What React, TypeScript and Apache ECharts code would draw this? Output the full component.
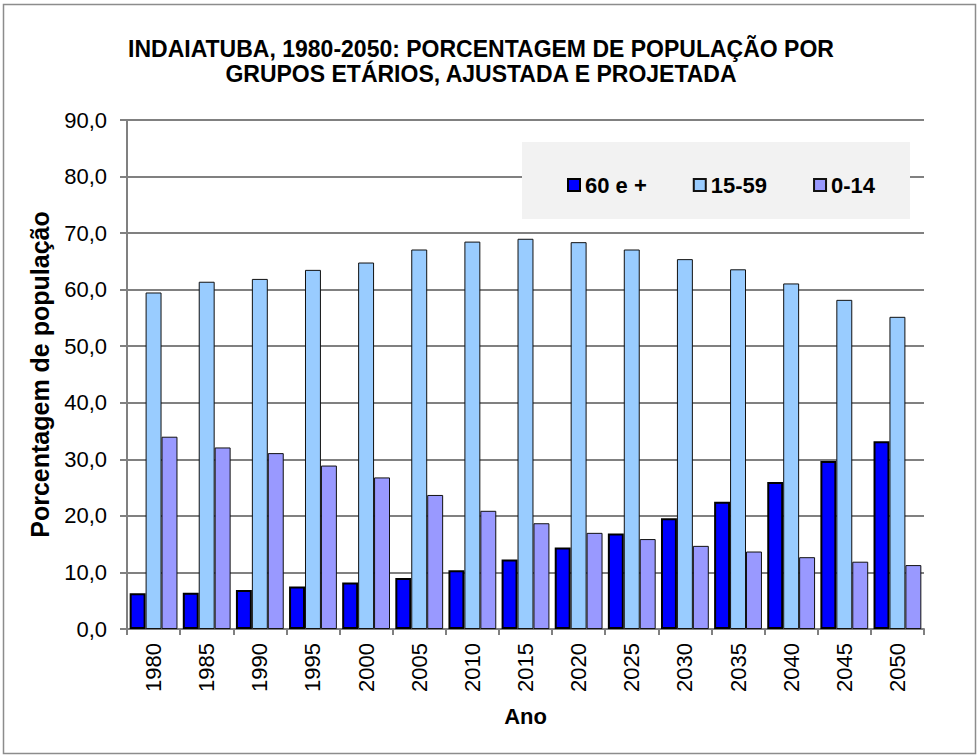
import React, { useEffect, useRef } from "react";
import * as echarts from "echarts";

const years = ["1980","1985","1990","1995","2000","2005","2010","2015","2020","2025","2030","2035","2040","2045","2050"];
const idosos = [6.3, 6.4, 6.9, 7.5, 8.2, 9.0, 10.4, 12.3, 14.4, 16.9, 19.6, 22.5, 26.0, 29.7, 33.2];
const adultos = [59.5, 61.4, 61.9, 63.5, 64.8, 67.1, 68.5, 69.0, 68.4, 67.1, 65.4, 63.6, 61.1, 58.2, 55.2];
const jovens = [34.0, 32.1, 31.1, 28.9, 26.8, 23.7, 20.9, 18.7, 17.0, 15.9, 14.7, 13.7, 12.7, 11.9, 11.3];
const seriesNames = ["60 e +", "15-59", "0-14"];
const titleText = "INDAIATUBA, 1980-2050: PORCENTAGEM DE POPULAÇÃO POR\nGRUPOS ETÁRIOS, AJUSTADA E PROJETADA";

const FONT = 'Arial, "Liberation Sans", sans-serif';

export default function App() {
  const ref = useRef<HTMLDivElement>(null);
  useEffect(() => {
    const chart = echarts.init(ref.current!, null, { renderer: "svg" });
    chart.setOption({
      animation: false,
      backgroundColor: "#ffffff",
      textStyle: { fontFamily: FONT },
      title: {
        text: titleText,
        left: 481,
        top: 36,
        padding: 0,
        textAlign: "center",
        textStyle: { fontFamily: FONT, fontWeight: "bold", fontSize: 23, color: "#000", lineHeight: 25 },
      },
      graphic: [
        {
          type: "rect",
          shape: { x: 3.5, y: 4.5, width: 972, height: 749 },
          style: { fill: "none", stroke: "#8c8c8c", lineWidth: 1.5 },
          z: 100,
        },
        {
          type: "rect",
          shape: { x: 522, y: 142, width: 388, height: 77 },
          style: { fill: "#f2f2f2", stroke: "none" },
          z: 5,
        },
      ],
      legend: {
        left: 567,
        top: 174,
        padding: 0,
        itemWidth: 12,
        itemHeight: 12,
        itemGap: 46,
        icon: "rect",
        data: seriesNames,
        textStyle: { fontFamily: FONT, fontWeight: "bold", fontSize: 22, color: "#000" },
        z: 10,
      },
      grid: { left: 127, right: 55, top: 120, bottom: 127, containLabel: false },
      xAxis: {
        type: "category",
        data: years,
        name: "Ano",
        nameLocation: "middle",
        nameGap: 76,
        nameTextStyle: { fontFamily: FONT, fontWeight: "bold", fontSize: 22, color: "#000" },
        axisLine: { lineStyle: { color: "#808080", width: 2 } },
        axisTick: { show: true, length: 6, lineStyle: { color: "#808080", width: 2 } },
        axisLabel: { rotate: 90, margin: 14, fontFamily: FONT, fontSize: 22, color: "#000" },
      },
      yAxis: {
        type: "value",
        min: 0,
        max: 90,
        interval: 10,
        name: "Porcentagem de população",
        nameLocation: "middle",
        nameGap: 75,
        nameTextStyle: { fontFamily: FONT, fontWeight: "bold", fontSize: 25, color: "#000" },
        axisLine: { show: true, lineStyle: { color: "#808080", width: 2 } },
        axisTick: { show: true, length: 7, lineStyle: { color: "#808080", width: 2 } },
        axisLabel: {
          margin: 20,
          fontFamily: FONT,
          fontSize: 22,
          color: "#000",
          formatter: (v: number) => v.toFixed(1).replace(".", ","),
        },
        splitLine: { lineStyle: { color: "#808080", width: 2 } },
      },
      series: [
        {
          name: seriesNames[0],
          type: "bar",
          data: idosos,
          barGap: "0%",
          barCategoryGap: "10%",
          itemStyle: { color: "#0000ff", borderColor: "#000", borderWidth: 2 },
        },
        {
          name: seriesNames[1],
          type: "bar",
          data: adultos,
          barGap: "0%",
          barCategoryGap: "10%",
          itemStyle: { color: "#99ccff", borderColor: "#111", borderWidth: 1 },
        },
        {
          name: seriesNames[2],
          type: "bar",
          data: jovens,
          barGap: "0%",
          barCategoryGap: "10%",
          itemStyle: { color: "#9999ff", borderColor: "#111", borderWidth: 1 },
        },
      ],
    });
    return () => chart.dispose();
  }, []);
  return <div ref={ref} style={{ position: "fixed", left: 0, top: 0, width: 979, height: 756 }} />;
}
